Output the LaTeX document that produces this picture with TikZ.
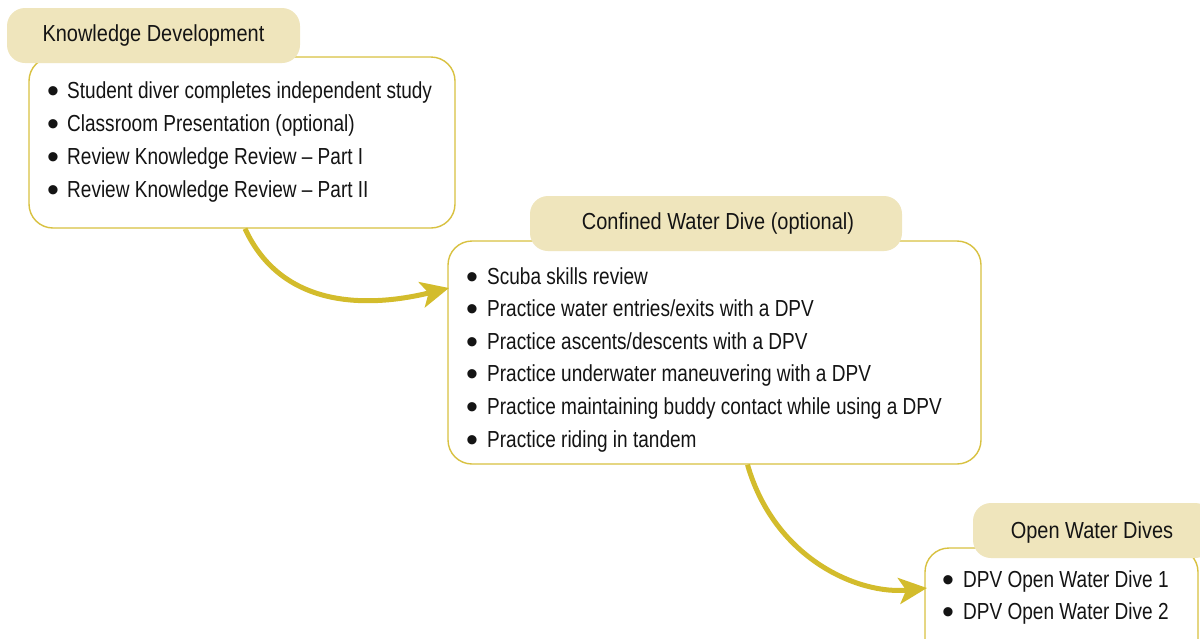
\documentclass[tikz,border=0pt]{standalone}
\usepackage{fontspec}
\setmainfont{Liberation Sans}[FakeStretch=0.82]
\newfontfamily\tabfont{Liberation Sans}[FakeStretch=0.86]
\newfontfamily\bulfont{Liberation Sans}
\usetikzlibrary{arrows.meta}
\definecolor{edgeyel}{HTML}{D8C140}
\definecolor{arrowyel}{HTML}{D3BC2C}
\definecolor{tabfill}{HTML}{EFE5BC}
\definecolor{txt}{HTML}{141414}
\tikzset{
  bodybox/.style={draw=edgeyel, line width=1.4pt, fill=white, rounded corners=24pt, inner sep=0pt},
  tabbox/.style={fill=tabfill, rounded corners=18pt, inner sep=0pt, minimum height=55pt},
  tabtext/.style={font=\tabfont\fontsize{23.2}{26}\selectfont, text=txt, inner sep=0pt},
  itemtext/.style={font=\fontsize{23.2}{26}\selectfont, text=txt, anchor=base west, inner sep=0pt},
  bul/.style={font=\bulfont\fontsize{34}{34}\selectfont, text=txt, anchor=base, inner sep=0pt},
  flow/.style={draw=arrowyel, line width=5pt, -{Stealth[length=28pt,width=26pt,inset=7pt]}},
}
\begin{document}
\begin{tikzpicture}[x=1pt,y=-1pt]
\useasboundingbox (0,0) rectangle (1200,638);
\clip (0,0) rectangle (1200,638);
% Box 1
\node[bodybox, minimum width=426pt, minimum height=171pt] (b1) at (242,142.5) {};
\node[tabbox, minimum width=293pt] (t1) at (153.5,35.5) {};
\node[tabtext] (t1t) at (153.5,35.5) {Knowledge Development};
\foreach \i/\t in {0/{Student diver completes independent study},1/{Classroom Presentation (optional)},2/{Review Knowledge Review -- Part I},3/{Review Knowledge Review -- Part II}}{
  \node[bul] (b1d\i) at (53,102+33*\i) {•};
  \node[itemtext] (b1i\i) at (67,98+33*\i) {\t};
}
% Box 2
\node[bodybox, minimum width=533pt, minimum height=223pt] (b2) at (714.5,352.5) {};
\node[tabbox, minimum width=372pt] (t2) at (716,223.5) {};
\node[tabtext] (t2t) at (718,223.5) {Confined Water Dive (optional)};
\foreach \i/\t in {0/{Scuba skills review},1/{Practice water entries/exits with a DPV},2/{Practice ascents/descents with a DPV},3/{Practice underwater maneuvering with a DPV},4/{Practice maintaining buddy contact while using a DPV},5/{Practice riding in tandem}}{
  \node[bul] (b2d\i) at (472,288+32.6*\i) {•};
  \node[itemtext] (b2i\i) at (487,284+32.6*\i) {\t};
}
% Box 3
\node[bodybox, minimum width=273pt, minimum height=130pt] (b3) at (1061.5,613) {};
\node[tabbox, minimum width=240pt] (t3) at (1093,530.5) {};
\node[tabtext] (t3t) at (1092,532) {Open Water Dives};
\foreach \i/\t in {0/{DPV Open Water Dive 1},1/{DPV Open Water Dive 2}}{
  \node[bul] (b3d\i) at (948,591+32*\i) {•};
  \node[itemtext] (b3i\i) at (963,587+32*\i) {\t};
}
% Arrows
\coordinate (a1e) at (449,288);
\coordinate (a2e) at (927,588);
\draw[flow] ([xshift=3pt]b1.south) .. controls (285,315) and (380,305) .. (a1e);
\draw[flow] ([xshift=33pt]b2.south) .. controls (775,560) and (860,595) .. (a2e);
\end{tikzpicture}
\end{document}
